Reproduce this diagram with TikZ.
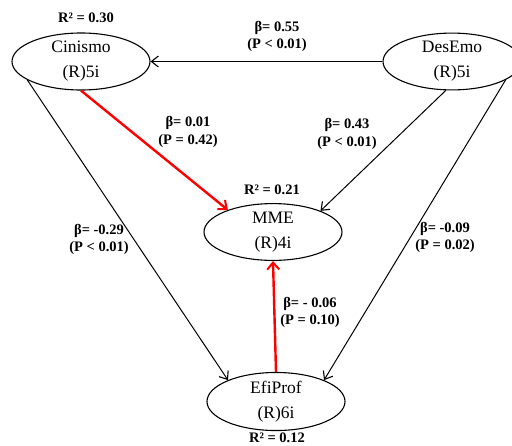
\documentclass[tikz,border=0pt]{standalone}
\usepackage{fontspec}
\setmainfont{Liberation Serif}
\usetikzlibrary{shapes.geometric,arrows.meta}
\tikzset{
  latent/.style={ellipse, draw, line width=1.1pt, minimum width=138pt, minimum height=48pt, inner sep=0pt, align=center, font=\fontsize{17.5}{25}\selectfont},
  lbl/.style={align=center, inner sep=0pt, font=\bfseries\fontsize{14.5}{17.5}\selectfont},
  path/.style={line width=1pt, -{Straight Barb[length=7pt,width=11pt,line width=1.1pt]}},
  redpath/.style={line width=2.4pt, red, -{Straight Barb[length=7pt,width=12pt,line width=2pt]}}
}
\begin{document}
\begin{tikzpicture}[x=1pt,y=-1pt]
\useasboundingbox (0,0) rectangle (512,445);
\clip (0,0) rectangle (512,445);
\fill[white] (0,0) rectangle (512,445);
\node[latent] (cin) at (81,61.5) {Cinismo\\(R)5i};
\node[latent] (des) at (452,61.5) {DesEmo\\(R)5i};
\node[latent, minimum height=52pt] (mme) at (273,232) {MME\\(R)4i};
\node[latent, minimum height=46pt] (efi) at (276,401.5) {EfiProf\\(R)6i};

\draw[path] (des.west) -- (cin.east);
\draw[redpath] (cin.270) -- (mme.154);
\draw[path] (des.258) -- (mme.24);
\draw[path] (cin.199) -- (efi.156);
\draw[path] (des.341) -- (efi.24);
\draw[redpath] (efi.north) -- (mme.south);

\node[lbl] (r1) at (86,18) {R² = 0.30};
\node[lbl] (l1) at (277,36.5) {β= 0.55\\(P < 0.01)};
\node[lbl] (l2) at (188,132) {β= 0.01\\(P = 0.42)};
\node[lbl] (l3) at (347,134) {β= 0.43\\(P < 0.01)};
\node[lbl] (r2) at (272,190) {R² = 0.21};
\node[lbl] (l4) at (99,239.5) {β= -0.29\\(P < 0.01)};
\node[lbl] (l5) at (445,237.5) {β= -0.09\\(P = 0.02)};
\node[lbl] (l6) at (310,312.5) {β= - 0.06\\(P = 0.10)};
\node[lbl] (r3) at (277,437.5) {R² = 0.12};
\end{tikzpicture}
\end{document}
